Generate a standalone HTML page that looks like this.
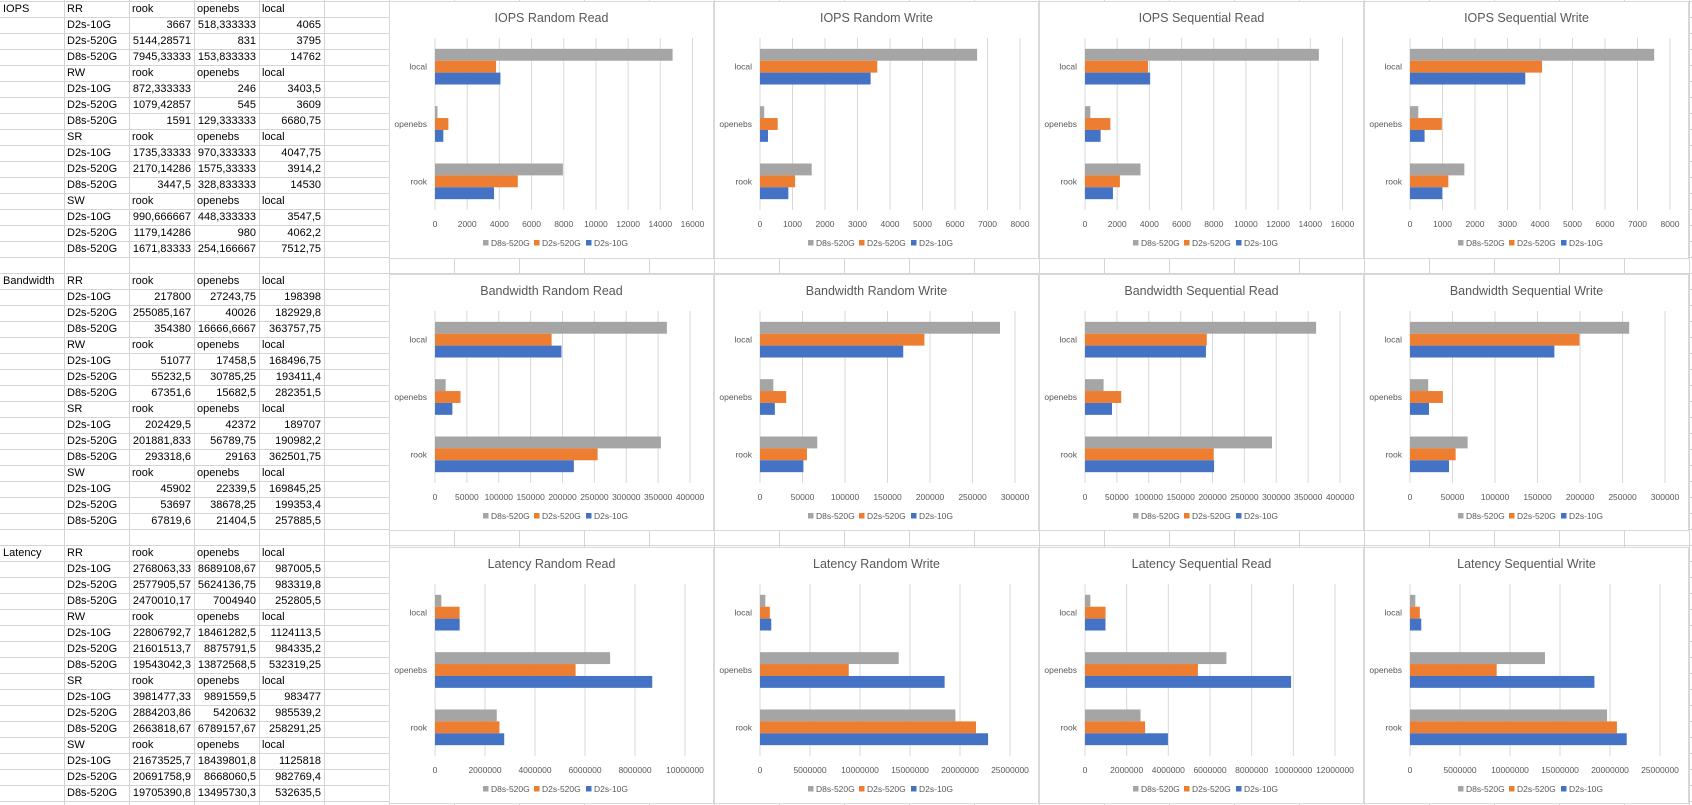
<!DOCTYPE html>
<html><head><meta charset="utf-8">
<style>
html,body{margin:0;padding:0;background:#fff;}
body{width:1692px;height:805px;overflow:hidden;position:relative;font-family:"Liberation Sans",sans-serif;}
#grid{position:absolute;left:0;top:0;}
.cell{position:absolute;font-size:11px;color:#000;height:16px;line-height:16px;white-space:nowrap;}
.l{text-align:left;padding-left:3px;box-sizing:border-box;}
.r{text-align:right;padding-right:3px;box-sizing:border-box;}
#charts{position:absolute;left:0;top:0;}
</style></head>
<body>
<svg id="grid" width="1692" height="805"></svg>
<div id="table"></div>
<svg id="charts" width="1692" height="805"></svg>
<script>
// ---- chart data (rows: D2s-10G, D2s-520G, D8s-520G ; cols: rook, openebs, local) ----
const categories = ['rook', 'openebs', 'local'];
const seriesNames = ['D2s-10G', 'D2s-520G', 'D8s-520G'];
const seriesColors = ['#4472C4', '#ED7D31', '#A5A5A5'];
const chartTitles = ['IOPS Random Read','IOPS Random Write','IOPS Sequential Read','IOPS Sequential Write',
 'Bandwidth Random Read','Bandwidth Random Write','Bandwidth Sequential Read','Bandwidth Sequential Write',
 'Latency Random Read','Latency Random Write','Latency Sequential Read','Latency Sequential Write'];
const iopsRR = [[3667,518.333333,4065],[5144.28571,831,3795],[7945.33333,153.833333,14762]];
const iopsRW = [[872.333333,246,3403.5],[1079.42857,545,3609],[1591,129.333333,6680.75]];
const iopsSR = [[1735.33333,970.333333,4047.75],[2170.14286,1575.33333,3914.2],[3447.5,328.833333,14530]];
const iopsSW = [[990.666667,448.333333,3547.5],[1179.14286,980,4062.2],[1671.83333,254.166667,7512.75]];
const bwRR = [[217800,27243.75,198398],[255085.167,40026,182929.8],[354380,16666.6667,363757.75]];
const bwRW = [[51077,17458.5,168496.75],[55232.5,30785.25,193411.4],[67351.6,15682.5,282351.5]];
const bwSR = [[202429.5,42372,189707],[201881.833,56789.75,190982.2],[293318.6,29163,362501.75]];
const bwSW = [[45902,22339.5,169845.25],[53697,38678.25,199353.4],[67819.6,21404.5,257885.5]];
const latRR = [[2768063.33,8689108.67,987005.5],[2577905.57,5624136.75,983319.8],[2470010.17,7004940,252805.5]];
const latRW = [[22806792.7,18461282.5,1124113.5],[21601513.7,8875791.5,984335.2],[19543042.3,13872568.5,532319.25]];
const latSR = [[3981477.33,9891559.5,983477],[2884203.86,5420632,985539.2],[2663818.67,6789157.67,258291.25]];
const latSW = [[21673525.7,18439801.8,1125818],[20691758.9,8668060.5,982769.4],[19705390.8,13495730.3,532635.5]];
const axisMax = [16000,8000,16000,8000, 400000,300000,400000,300000, 10000000,25000000,12000000,25000000];
const axisStep = [2000,1000,2000,1000, 50000,50000,50000,50000, 2000000,5000000,2000000,5000000];
const chartData = [iopsRR,iopsRW,iopsSR,iopsSW,bwRR,bwRW,bwSR,bwSW,latRR,latRW,latSR,latSW];

// ---- table text ----
const tableBlocks = [
 ['IOPS', [
  ['RR','rook','openebs','local'],['D2s-10G','3667','518,333333','4065'],['D2s-520G','5144,28571','831','3795'],['D8s-520G','7945,33333','153,833333','14762'],
  ['RW','rook','openebs','local'],['D2s-10G','872,333333','246','3403,5'],['D2s-520G','1079,42857','545','3609'],['D8s-520G','1591','129,333333','6680,75'],
  ['SR','rook','openebs','local'],['D2s-10G','1735,33333','970,333333','4047,75'],['D2s-520G','2170,14286','1575,33333','3914,2'],['D8s-520G','3447,5','328,833333','14530'],
  ['SW','rook','openebs','local'],['D2s-10G','990,666667','448,333333','3547,5'],['D2s-520G','1179,14286','980','4062,2'],['D8s-520G','1671,83333','254,166667','7512,75']]],
 ['Bandwidth', [
  ['RR','rook','openebs','local'],['D2s-10G','217800','27243,75','198398'],['D2s-520G','255085,167','40026','182929,8'],['D8s-520G','354380','16666,6667','363757,75'],
  ['RW','rook','openebs','local'],['D2s-10G','51077','17458,5','168496,75'],['D2s-520G','55232,5','30785,25','193411,4'],['D8s-520G','67351,6','15682,5','282351,5'],
  ['SR','rook','openebs','local'],['D2s-10G','202429,5','42372','189707'],['D2s-520G','201881,833','56789,75','190982,2'],['D8s-520G','293318,6','29163','362501,75'],
  ['SW','rook','openebs','local'],['D2s-10G','45902','22339,5','169845,25'],['D2s-520G','53697','38678,25','199353,4'],['D8s-520G','67819,6','21404,5','257885,5']]],
 ['Latency', [
  ['RR','rook','openebs','local'],['D2s-10G','2768063,33','8689108,67','987005,5'],['D2s-520G','2577905,57','5624136,75','983319,8'],['D8s-520G','2470010,17','7004940','252805,5'],
  ['RW','rook','openebs','local'],['D2s-10G','22806792,7','18461282,5','1124113,5'],['D2s-520G','21601513,7','8875791,5','984335,2'],['D8s-520G','19543042,3','13872568,5','532319,25'],
  ['SR','rook','openebs','local'],['D2s-10G','3981477,33','9891559,5','983477'],['D2s-520G','2884203,86','5420632','985539,2'],['D8s-520G','2663818,67','6789157,67','258291,25'],
  ['SW','rook','openebs','local'],['D2s-10G','21673525,7','18439801,8','1125818'],['D2s-520G','20691758,9','8668060,5','982769,4'],['D8s-520G','19705390,8','13495730,3','532635,5']]]
];

const NS='http://www.w3.org/2000/svg';
function mk(parent, tag, attrs, text){
  const e=document.createElementNS(NS,tag);
  for(const k in attrs) e.setAttribute(k,attrs[k]);
  if(text!==undefined) e.textContent=text;
  parent.appendChild(e); return e;
}
// grid
const grid=document.getElementById('grid');
for(let y=1;y<=805;y+=16){ const ln=mk(grid,'line',{x1:0,x2:1692,y1:y+0.5,y2:y+0.5,stroke:'#d4d4d4','stroke-width':1});
  
   }
for(let x=64;x<=1692;x+=65){ const ln=mk(grid,'line',{x1:x+0.5,x2:x+0.5,y1:0,y2:805,stroke:'#d4d4d4','stroke-width':1});
  
   }

// table
const table=document.getElementById('table');
const blockRow=[0,17,34];
const colX=[0,64,129,194,259,324];
tableBlocks.forEach((b,bi)=>{
  const top=1+blockRow[bi]*16;
  const lab=document.createElement('div');
  lab.className='cell l'; lab.style.left='0px'; lab.style.top=top+'px'; lab.style.width='64px';
  lab.textContent=b[0];
  
  
  table.appendChild(lab);
  b[1].forEach((row,ri)=>{
    const isHead=(ri%4===0);
    row.forEach((txt,ci)=>{
      const d=document.createElement('div');
      const right=(!isHead && ci>0);
      d.className='cell '+(right?'r':'l');
      d.style.left=colX[ci+1]+'px'; d.style.top=(top+ri*16)+'px'; d.style.width='65px';
      d.textContent=txt;
      
      
      table.appendChild(d);
    });
  });
});

// charts
const charts=document.getElementById('charts');
const chartTops=[1,274,547], chartHs=[257,256,256];
chartData.forEach((data,i)=>{
  const cx=389+325*(i%4), cy=chartTops[Math.floor(i/4)], ch=chartHs[Math.floor(i/4)];
  const g=mk(charts,'g',{});
  
  
  mk(g,'rect',{x:cx+0.5,y:cy+0.5,width:324,height:ch,fill:'#fff',stroke:'#d9d9d9'});
  const t=mk(g,'text',{x:cx+162.5,y:cy+21,'text-anchor':'middle','font-size':'12.5px',fill:'#595959','font-family':'Liberation Sans, sans-serif'},chartTitles[i]);
  
  
  const max=axisMax[i], step=axisStep[i];
  const maxLabelW=String(max).length*5;
  const pL=cx+46, pR=cx+325-9-maxLabelW/2, pT=cy+37, pH=172;
  const xs=v=>pL+(v/max)*(pR-pL);
  for(let v=0;v<=max+1e-6;v+=step){
    const gl=mk(g,'line',{x1:xs(v),x2:xs(v),y1:pT,y2:pT+pH,stroke:'#d9d9d9','stroke-width':1});
    
    
    const tl=mk(g,'text',{x:xs(v),y:cy+226,'text-anchor':'middle','font-size':'8.5px',fill:'#595959'},String(v));
    
    
  }
  const band=pH/3, bw=band/(3+1.82);
  categories.forEach((cat,ci)=>{
    const bandTop=pT+pH-(ci+1)*band;
    const cl=mk(g,'text',{x:pL-8,y:bandTop+band/2+3,'text-anchor':'end','font-size':'8.5px',fill:'#595959'},cat);
    
    
    const gTop=bandTop+(band-3*bw)/2;
    // top to bottom: D8s (2), D2s-520 (1), D2s-10 (0)
    [2,1,0].forEach((si,k)=>{
      const v=data[si][ci];
      const r=mk(g,'rect',{x:pL,y:gTop+k*bw,width:Math.max(0,xs(v)-pL),height:bw,fill:seriesColors[si]});
      
      
    });
  });
  const legX=[94,145,197];
  [2,1,0].forEach((si,k)=>{
    const lx=cx+legX[k];
    const sq=mk(g,'rect',{x:lx,y:cy+239,width:5.5,height:5.5,fill:seriesColors[si]});
    
    
    const lt=mk(g,'text',{x:lx+8,y:cy+245,'font-size':'8.5px',fill:'#595959'},seriesNames[si]);
    
    
  });
});
</script>
</body></html>
